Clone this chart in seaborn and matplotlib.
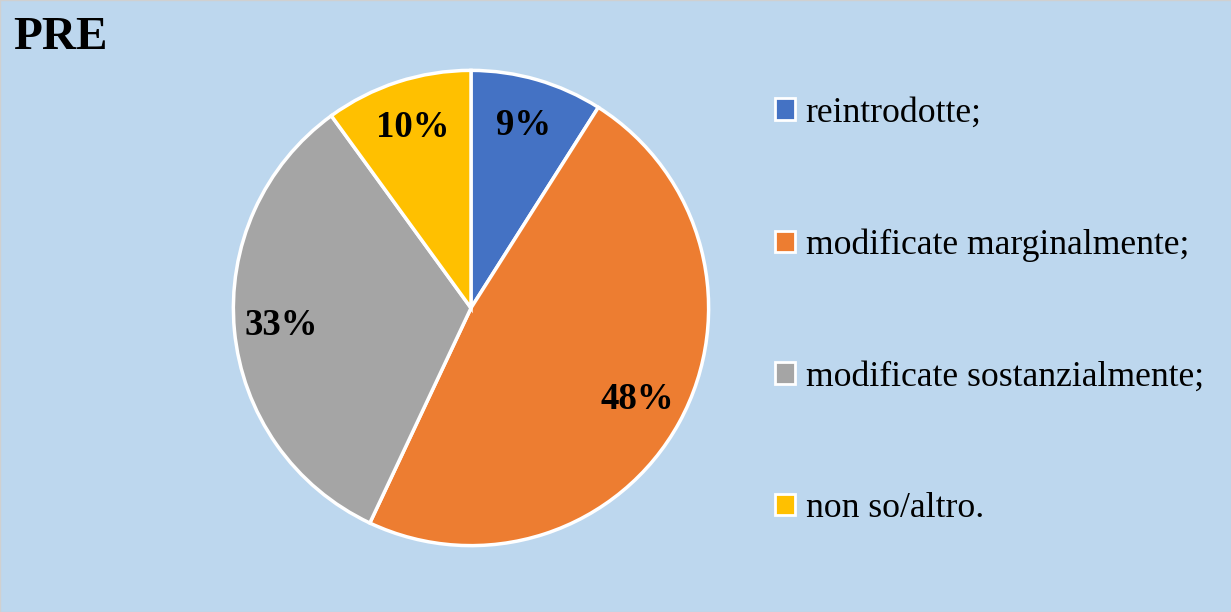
import matplotlib
matplotlib.use("Agg")
import matplotlib.pyplot as plt
import seaborn as sns
from matplotlib.patches import Patch

categories = ["reintrodotte;", "modificate marginalmente;", "modificate sostanzialmente;", "non so/altro."]
values = [9, 48, 33, 10]
colors = ["#4472C4", "#ED7D31", "#A5A5A5", "#FFC000"]
title = "PRE"
bg = "#BDD7EE"

sns.set_theme(style="white")
plt.rcParams["font.family"] = ["Liberation Serif", "DejaVu Serif"]
plt.rcParams["text.color"] = "black"

W, H = 1231, 612
fig = plt.figure(figsize=(W / 100, H / 100), dpi=100, facecolor=bg)

cx, cy, r = 471, 308, 240
ax = fig.add_axes([(cx - r) / W, (H - cy - r) / H, 2 * r / W, 2 * r / H])
ax.set_facecolor(bg)
wedges, texts, autotexts = ax.pie(
    values, colors=colors, startangle=90, counterclock=False,
    autopct=lambda p: f"{p:.0f}%", pctdistance=0.8, radius=1,
    wedgeprops=dict(edgecolor="white", linewidth=2.5),
    textprops=dict(fontsize=26.5, fontweight="bold", color="black"),
)
ax.set_xlim(-1.01, 1.01)
ax.set_ylim(-1.01, 1.01)
ax.set_aspect("equal")
ax.axis("off")

fig.text(13 / W, 1 - 49 / H, title, fontsize=34, fontweight="bold", va="baseline", ha="left", color="black")

handles = [Patch(facecolor=c, edgecolor="white", linewidth=2) for c in colors]
leg = fig.legend(handles, categories, loc="center left",
                 bbox_to_anchor=(775 / W, 1 - 311 / H),
                 frameon=False, fontsize=25.7, handlelength=0.56, handleheight=0.56,
                 handletextpad=0.3, labelspacing=2.76, borderaxespad=0, borderpad=0,
                 labelcolor="black")

fig.patches.append(plt.Rectangle((0, 0), 1, 1, transform=fig.transFigure,
                                 fill=False, edgecolor="#D0D0D0", linewidth=1))

fig.savefig("out.png", dpi=100, facecolor=bg)
